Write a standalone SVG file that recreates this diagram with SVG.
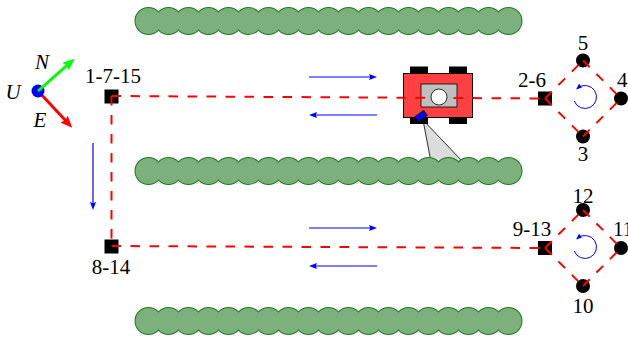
<svg xmlns="http://www.w3.org/2000/svg" xmlns:xlink="http://www.w3.org/1999/xlink" width="628" height="342" viewBox="0 0 628 342">
  <style>
    text { font-family: 'Liberation Serif', 'Times New Roman', 'DejaVu Serif', serif; font-size: 21px; fill: #000; text-anchor: middle; }
    .ax { font-style: italic; }
    .path { fill: none; stroke: #ff0000; stroke-width: 2; stroke-dasharray: 9.5 9.5; }
    .wp { fill: #000; }
    .flow { fill: none; stroke: #0000ff; stroke-width: 1.2; marker-end: url(#tip-blue); }
    .loop { fill: none; stroke: #0000ff; stroke-width: 1; marker-end: url(#tip-loop); }
    .hedge-edge { fill: #7cb07c; stroke: #207a20; stroke-width: 2; }
    .hedge-fill { fill: #7cb07c; }
    .wheel { fill: #000; }
  </style>
  <defs>
    <marker id="tip-blue" viewBox="0 0 8 6" refX="5" refY="3" markerWidth="8" markerHeight="6" markerUnits="userSpaceOnUse" orient="auto">
      <path d="M0,0 L8,3 L0,6 L1.2,3 z" fill="#0000ff"/>
    </marker>
    <marker id="tip-loop" viewBox="0 0 6 5" refX="4" refY="2.5" markerWidth="6" markerHeight="5" markerUnits="userSpaceOnUse" orient="auto">
      <path d="M0,0 L6,2.5 L0,5 z" fill="#0000ff"/>
    </marker>
    <marker id="tip-green" viewBox="0 0 12 10" refX="8" refY="5" markerWidth="12" markerHeight="10" markerUnits="userSpaceOnUse" orient="auto">
      <path d="M0,0 L12,5 L0,10 L2,5 z" fill="#00ff00"/>
    </marker>
    <marker id="tip-red" viewBox="0 0 12 10" refX="8" refY="5" markerWidth="12" markerHeight="10" markerUnits="userSpaceOnUse" orient="auto">
      <path d="M0,0 L12,5 L0,10 L2,5 z" fill="#ff0000"/>
    </marker>
    <!-- one row of bushes: outlined circles first, plain fills on top hide the inner outlines -->
    <g id="hedge-row">
      <g class="hedge-edge">
        <circle cx="148.5" cy="0" r="13"/><circle cx="168.5" cy="0" r="13"/><circle cx="188.5" cy="0" r="13"/>
        <circle cx="208.5" cy="0" r="13"/><circle cx="228.5" cy="0" r="13"/><circle cx="248.5" cy="0" r="13"/>
        <circle cx="268.5" cy="0" r="13"/><circle cx="288.5" cy="0" r="13"/><circle cx="308.5" cy="0" r="13"/>
        <circle cx="328.5" cy="0" r="13"/><circle cx="348.5" cy="0" r="13"/><circle cx="368.5" cy="0" r="13"/>
        <circle cx="388.5" cy="0" r="13"/><circle cx="408.5" cy="0" r="13"/><circle cx="428.5" cy="0" r="13"/>
        <circle cx="448.5" cy="0" r="13"/><circle cx="468.5" cy="0" r="13"/><circle cx="488.5" cy="0" r="13"/>
        <circle cx="508.5" cy="0" r="13"/>
      </g>
      <g class="hedge-fill">
        <circle cx="148.5" cy="0" r="13"/><circle cx="168.5" cy="0" r="13"/><circle cx="188.5" cy="0" r="13"/>
        <circle cx="208.5" cy="0" r="13"/><circle cx="228.5" cy="0" r="13"/><circle cx="248.5" cy="0" r="13"/>
        <circle cx="268.5" cy="0" r="13"/><circle cx="288.5" cy="0" r="13"/><circle cx="308.5" cy="0" r="13"/>
        <circle cx="328.5" cy="0" r="13"/><circle cx="348.5" cy="0" r="13"/><circle cx="368.5" cy="0" r="13"/>
        <circle cx="388.5" cy="0" r="13"/><circle cx="408.5" cy="0" r="13"/><circle cx="428.5" cy="0" r="13"/>
        <circle cx="448.5" cy="0" r="13"/><circle cx="468.5" cy="0" r="13"/><circle cx="488.5" cy="0" r="13"/>
        <circle cx="508.5" cy="0" r="13"/>
      </g>
    </g>
  </defs>

  <rect width="628" height="342" fill="#ffffff"/>

  <!-- camera field of view (lower end hidden by the bushes) -->
  <polygon id="fov" points="423,120 431,162 463,162" fill="#dcdcdc" stroke="#000" stroke-width="0.8"/>

  <!-- rows of bushes -->
  <g id="hedges">
    <use xlink:href="#hedge-row" y="21"/>
    <use xlink:href="#hedge-row" y="171"/>
    <use xlink:href="#hedge-row" y="321"/>
  </g>

  <!-- robot chassis -->
  <g id="robot">
    <rect class="wheel" x="410" y="66.5" width="18" height="13"/>
    <rect class="wheel" x="449" y="66.5" width="18" height="13"/>
    <rect class="wheel" x="410" y="111" width="18" height="13"/>
    <rect class="wheel" x="449" y="111" width="18" height="13"/>
    <rect x="403.5" y="73.5" width="69" height="44" fill="#ff4040" stroke="#000" stroke-width="1"/>
    <rect x="421" y="84" width="36" height="23" fill="#bfbfbf" stroke="#000" stroke-width="0.8"/>
  </g>

  <!-- waypoints -->
  <g id="wp-1-7-15"><rect class="wp" x="104.5" y="89.5" width="14" height="14"/></g>
  <g id="wp-8-14"><rect class="wp" x="104.5" y="239.5" width="14" height="14"/></g>
  <g id="wp-2-6"><rect class="wp" x="538" y="91.5" width="14" height="14"/></g>
  <g id="wp-9-13"><rect class="wp" x="538" y="241" width="14" height="14"/></g>
  <g id="wp-3"><circle class="wp" cx="583" cy="136.5" r="7"/></g>
  <g id="wp-4"><circle class="wp" cx="621" cy="98.5" r="7"/></g>
  <g id="wp-5"><circle class="wp" cx="583" cy="60.5" r="7"/></g>
  <g id="wp-10"><circle class="wp" cx="583" cy="286" r="7"/></g>
  <g id="wp-11"><circle class="wp" cx="621" cy="248" r="7"/></g>
  <g id="wp-12"><circle class="wp" cx="583" cy="210" r="7"/></g>

  <!-- planned route -->
  <g id="connectors">
    <line class="path" x1="111.5" y1="96" x2="545" y2="98.5"/>
    <line class="path" x1="111.5" y1="96" x2="111.5" y2="246"/>
    <line class="path" x1="111.5" y1="246" x2="545" y2="248"/>
    <line class="path" x1="545" y1="98.5" x2="583" y2="60.5"/>
    <line class="path" x1="583" y1="60.5" x2="621" y2="98.5"/>
    <line class="path" x1="545" y1="98.5" x2="583" y2="136.5"/>
    <line class="path" x1="583" y1="136.5" x2="621" y2="98.5"/>
    <line class="path" x1="545" y1="248" x2="583" y2="210"/>
    <line class="path" x1="583" y1="210" x2="621" y2="248"/>
    <line class="path" x1="545" y1="248" x2="583" y2="286"/>
    <line class="path" x1="583" y1="286" x2="621" y2="248"/>
  </g>

  <!-- robot sensor head and camera -->
  <g id="robot-top">
    <circle cx="439" cy="97" r="8" fill="#ffffff" stroke="#000" stroke-width="0.8"/>
    <rect x="-5.5" y="-3" width="11" height="6" fill="#0000ff" stroke="#000" stroke-width="0.8" transform="translate(421,116) rotate(-35)"/>
  </g>

  <!-- driving directions -->
  <g id="directions">
    <line class="flow" x1="309" y1="77" x2="374" y2="77"/>
    <line class="flow" x1="377" y1="115" x2="312" y2="115"/>
    <line class="flow" x1="309" y1="228" x2="374" y2="228"/>
    <line class="flow" x1="377" y1="266" x2="312" y2="266"/>
    <line class="flow" x1="93" y1="143" x2="93" y2="207"/>
    <path class="loop" d="M574.2,100.9 A11.5,11.5 0 1 0 577.6,88.2"/>
    <path class="loop" d="M574.2,250.9 A11.5,11.5 0 1 0 577.6,238.2"/>
  </g>

  <!-- local frame -->
  <g id="frame">
    <line x1="38" y1="91" x2="69.5" y2="124.8" stroke="#ff0000" stroke-width="3" marker-end="url(#tip-red)"/>
    <circle cx="38" cy="91" r="6.5" fill="#0000ff"/>
    <line x1="38" y1="91" x2="71.5" y2="61.3" stroke="#00ff00" stroke-width="3" marker-end="url(#tip-green)"/>
    <text class="ax" x="42" y="69">N</text>
    <text class="ax" x="13" y="98.5">U</text>
    <text class="ax" x="40" y="127">E</text>
  </g>

  <!-- waypoint labels -->
  <g id="labels">
    <text x="113" y="83">1-7-15</text>
    <text x="111" y="274">8-14</text>
    <text x="532" y="87">2-6</text>
    <text x="583" y="50">5</text>
    <text x="617" y="87" style="text-anchor:start">4</text>
    <text x="583" y="161">3</text>
    <text x="532" y="236">9-13</text>
    <text x="583" y="203">12</text>
    <text x="613" y="236" style="text-anchor:start">11</text>
    <text x="583" y="313">10</text>
  </g>
</svg>
